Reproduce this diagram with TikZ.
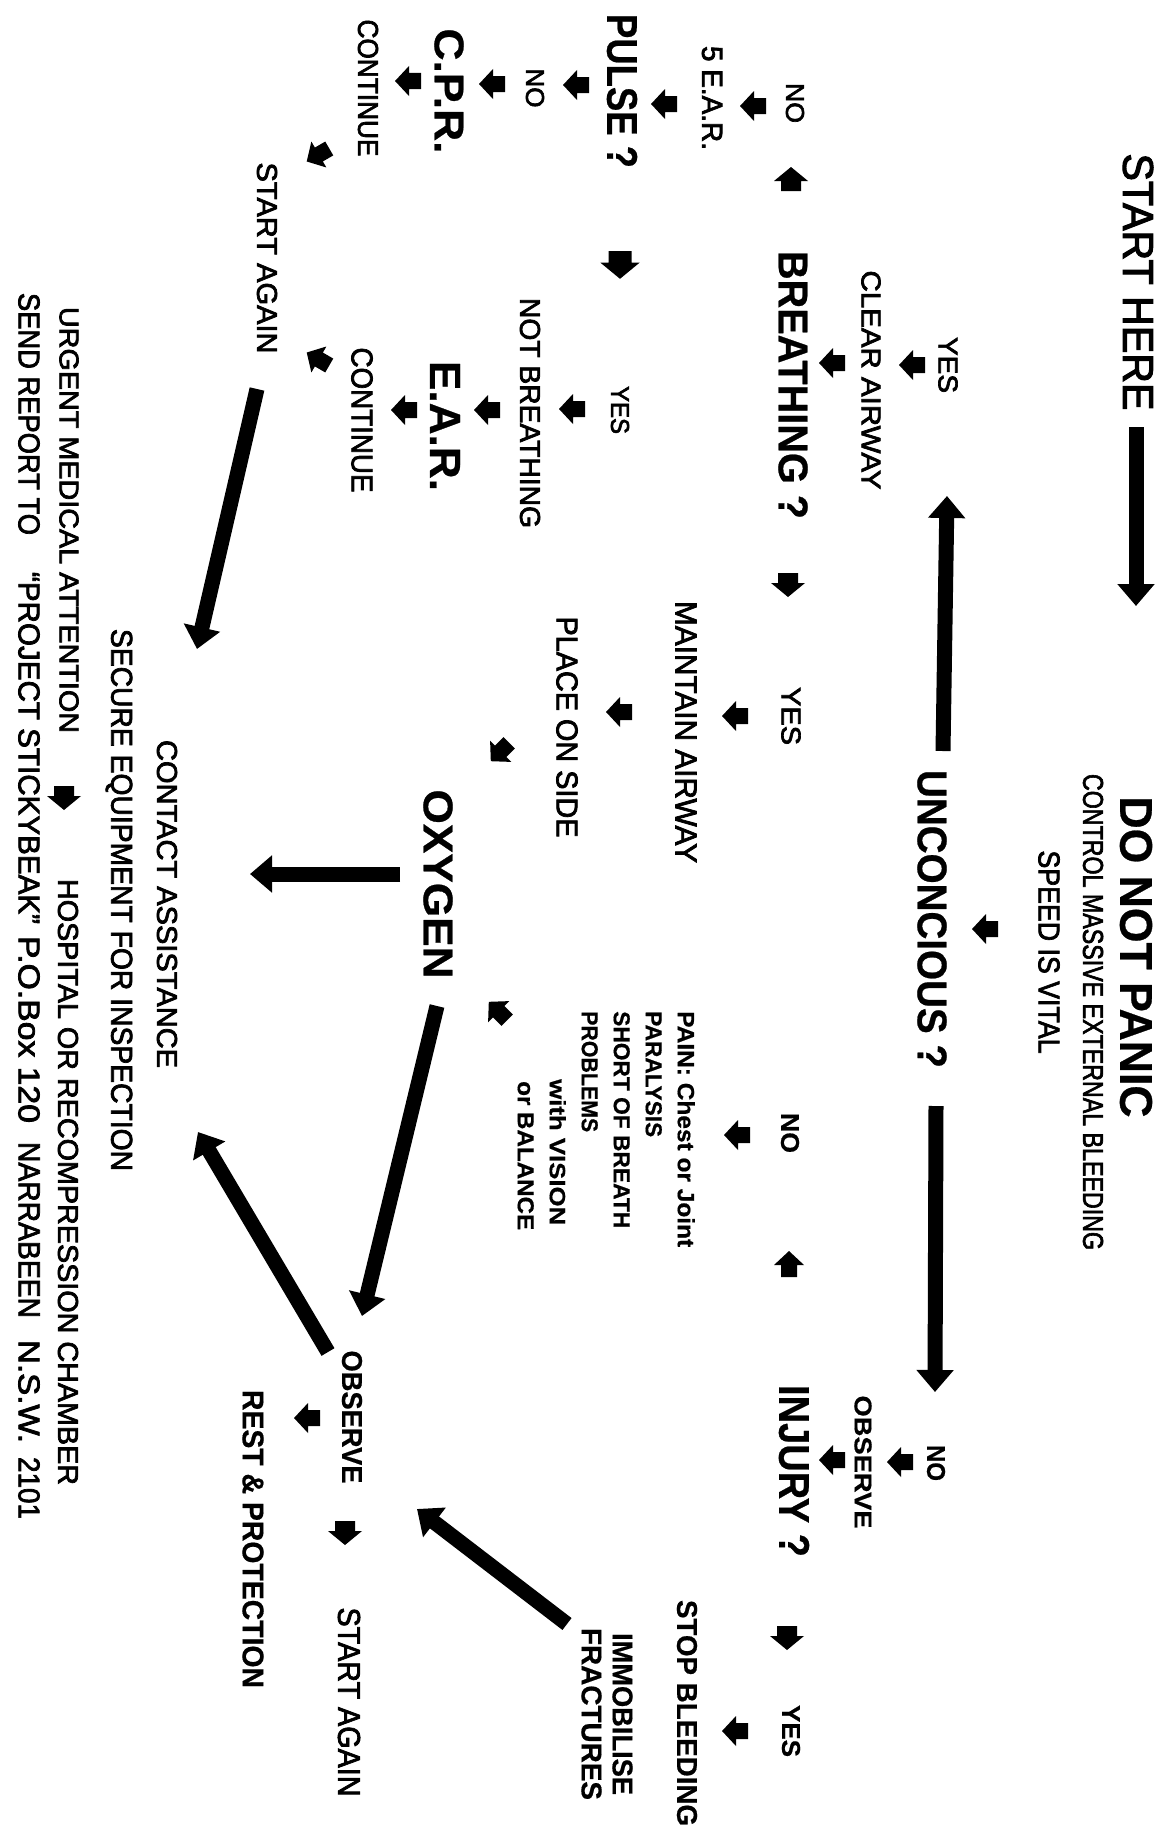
\documentclass[tikz,border=0pt]{standalone}
\usepackage{fontspec}
\setmainfont{Liberation Sans}[FakeBold=2.5, BoldFont={Liberation Sans Bold}, BoldFeatures={FakeBold=0.6}]
\usepackage{graphicx}
\usetikzlibrary{arrows.meta}
\newcommand{\fitt}[3]{\resizebox{#1pt}{#2pt}{#3}}
\tikzset{
  ah/.pic={\fill (-13,-8) -- (-1,-8) -- (-1,-15) -- (13,0) -- (-1,15) -- (-1,8) -- (-13,8) -- cycle;},
  ahw/.pic={\fill (-12,-10) -- (-2,-10) -- (-2,-17) -- (12,0) -- (-2,17) -- (-2,10) -- (-12,10) -- cycle;},
  lbl/.style={rotate=-90, inner sep=0pt, anchor=center},
  blbl/.style={lbl, font=\bfseries},
  bigarrow/.style={line width=15pt, -{Triangle[width=36pt,length=22pt]}}
}
\begin{document}
\begin{tikzpicture}[x=1pt,y=-1pt]
\fill[white] (0,0) rectangle (1159,1828);
\useasboundingbox (0,0) rectangle (1159,1828);

% ---------- text nodes ----------
\node[lbl]  (start)   at (1138,282) {\fitt{257}{30}{START HERE}};
\node[blbl] (panic)   at (1136,957) {\fitt{321}{32}{DO NOT PANIC}};
\node[lbl]  (control) at (1093,1012) {\fitt{476}{20}{CONTROL MASSIVE EXTERNAL BLEEDING}};
\node[lbl]  (speed)   at (1049,952) {\fitt{203}{21}{SPEED IS VITAL}};
\node[blbl] (uncon)   at (932,919) {\fitt{298}{29}{UNCONCIOUS ?}};

\node[lbl]  (yes1)    at (948,365) {\fitt{56}{19}{YES}};
\node[lbl]  (clear)   at (871,380) {\fitt{219}{19}{CLEAR AIRWAY}};
\node[blbl] (breath)  at (793,385) {\fitt{268}{29}{BREATHING ?}};
\node[lbl]  (no1)     at (795,103) {\fitt{40}{18}{NO}};
\node[lbl]  (fiveear) at (712,98) {\fitt{104}{20}{5 E.A.R.}};
\node[blbl] (pulse)   at (622,91) {\fitt{154}{30}{PULSE ?}};
\node[lbl]  (no2)     at (535,88) {\fitt{39}{18}{NO}};
\node[blbl] (cpr)     at (449,91) {\fitt{125}{29}{C.P.R.}};
\node[lbl]  (cont1)   at (368,88) {\fitt{137}{20}{CONTINUE}};
\node[lbl]  (again1)  at (267,258) {\fitt{191}{20}{START AGAIN}};
\node[lbl]  (yes2)    at (620,410) {\fitt{48}{18}{YES}};
\node[lbl]  (notbr)   at (530,413) {\fitt{230}{20}{NOT BREATHING}};
\node[blbl] (ear)     at (445,426) {\fitt{130}{30}{E.A.R.}};
\node[lbl]  (cont2)   at (362,420) {\fitt{145}{21}{CONTINUE}};

\node[lbl]  (yes3)    at (791,716) {\fitt{58}{19}{YES}};
\node[lbl]  (maint)   at (686,732) {\fitt{262}{21}{MAINTAIN AIRWAY}};
\node[lbl]  (place)   at (567,727) {\fitt{221}{21}{PLACE ON SIDE}};
\node[blbl] (oxy)     at (438,884) {\fitt{189}{29}{OXYGEN}};

\node[lbl, anchor=north west, align=left, font=\bfseries\fontsize{16}{32}\selectfont] (pain) at (695,1011)
  {\fitt{236}{17}{PAIN: Chest or Joint}\\
   \fitt{126}{16}{PARALYSIS}\\
   \fitt{217}{16}{SHORT OF BREATH}\\
   \fitt{121}{16}{PROBLEMS}\\
   \hspace*{68pt}\fitt{146}{16}{with VISION}\\
   \hspace*{70pt}\fitt{149}{16}{or BALANCE}};

\node[blbl] (no3)     at (790,1133) {\fitt{40}{18}{NO}};
\node[blbl] (injury)  at (794,1471) {\fitt{172}{30}{INJURY ?}};
\node[blbl] (no4)     at (936,1463) {\fitt{36}{18}{NO}};
\node[blbl] (obs1)    at (863,1462) {\fitt{133}{17}{OBSERVE}};
\node[blbl] (yes4)    at (791,1731) {\fitt{52}{18}{YES}};
\node[blbl] (stop)    at (687,1713) {\fitt{226}{20}{STOP BLEEDING}};
\node[blbl, align=center, font=\bfseries\fontsize{20}{31}\selectfont] (immob) at (607,1714)
  {\fitt{162}{20}{IMMOBILISE}\\\fitt{172}{20}{FRACTURES}};
\node[blbl] (obs2)    at (352,1417) {\fitt{133}{20}{OBSERVE}};
\node[blbl] (rest)    at (253,1539) {\fitt{298}{21}{REST \& PROTECTION}};
\node[lbl]  (again2)  at (349,1702) {\fitt{189}{22}{START AGAIN}};

\node[lbl]  (contact) at (167,904) {\fitt{328}{20}{CONTACT ASSISTANCE}};
\node[lbl]  (secure)  at (119,900) {\fitt{542}{21}{SECURE EQUIPMENT FOR INSPECTION}};
\node[lbl]  (urgent)  at (69,520) {\fitt{426}{19}{URGENT MEDICAL ATTENTION}};
\node[lbl]  (hosp)    at (68,1182) {\fitt{606}{20}{HOSPITAL OR RECOMPRESSION CHAMBER}};
\node[lbl]  (send)    at (29,906) {\fitt{242}{21}{SEND REPORT TO}\hspace{37pt}%
  \fitt{352}{21}{“PROJECT STICKYBEAK”}\hspace{12pt}%
  \fitt{187}{21}{P.O.Box 120}\hspace{19pt}%
  \fitt{176}{21}{NARRABEEN}\hspace{22pt}%
  \fitt{103}{21}{N.S.W.}\hspace{14pt}%
  \fitt{62}{21}{2101}};

% ---------- thick connectors ----------
\coordinate (s1) at (1136,427);  \coordinate (s1t) at (1136,606);
\coordinate (u1) at (943,751);   \coordinate (u1t) at (947,496);
\coordinate (u2) at (936,1106);  \coordinate (u2t) at (935,1392);
\coordinate (g1) at (257,389);   \coordinate (g1t) at (197,649);
\coordinate (o1) at (400,874);   \coordinate (o1t) at (250,874);
\coordinate (o2) at (437,1006);  \coordinate (o2t) at (362,1316);
\coordinate (b1) at (328,1352);  \coordinate (b1t) at (198,1132);
\coordinate (f1) at (567,1624);  \coordinate (f1t) at (417,1509);
\draw[bigarrow] (s1) -- (s1t);
\draw[bigarrow] (u1) -- (u1t);
\draw[bigarrow] (u2) -- (u2t);
\draw[bigarrow] (g1) -- (g1t);
\draw[bigarrow] (o1) -- (o1t);
\draw[bigarrow] (o2) -- (o2t);
\draw[bigarrow] (b1) -- (b1t);
\draw[bigarrow] (f1) -- (f1t);

% ---------- small arrowheads ----------
\pic[rotate=90]   at (791,179) {ahw};
\pic[rotate=180]  at (753,106) {ah};
\pic[rotate=180]  at (664,104) {ah};
\pic[rotate=180]  at (576,85) {ah};
\pic[rotate=180]  at (492,84) {ah};
\pic[rotate=180]  at (408,81) {ah};
\pic[rotate=-150] at (318,155) {ah};
\pic[rotate=150]  at (318,359) {ah};
\pic[rotate=-90, scale=1.15] at (620,265) {ahw};
\pic[rotate=180]  at (572,409) {ah};
\pic[rotate=180]  at (487,410) {ah};
\pic[rotate=180]  at (404,410) {ah};
\pic[rotate=-90]  at (788,585) {ahw};
\pic[rotate=180]  at (735,716) {ah};
\pic[rotate=180]  at (619,712) {ah};
\pic[rotate=-135] at (500,752) {ah};
\pic[rotate=135]  at (498,1011) {ah};
\pic[rotate=180]  at (985,929) {ah};
\pic[rotate=180]  at (912,365) {ah};
\pic[rotate=180]  at (832,363) {ah};
\pic[rotate=90]   at (789,1264) {ah};
\pic[rotate=180]  at (737,1135) {ah};
\pic[rotate=180]  at (900,1462) {ah};
\pic[rotate=180]  at (832,1460) {ah};
\pic[rotate=-90]  at (787,1638) {ahw};
\pic[rotate=180]  at (735,1731) {ah};
\pic[rotate=180]  at (307,1418) {ah};
\pic[rotate=-90]  at (345,1533) {ahw};
\pic[rotate=-90]  at (64,798) {ahw};
\end{tikzpicture}
\end{document}
